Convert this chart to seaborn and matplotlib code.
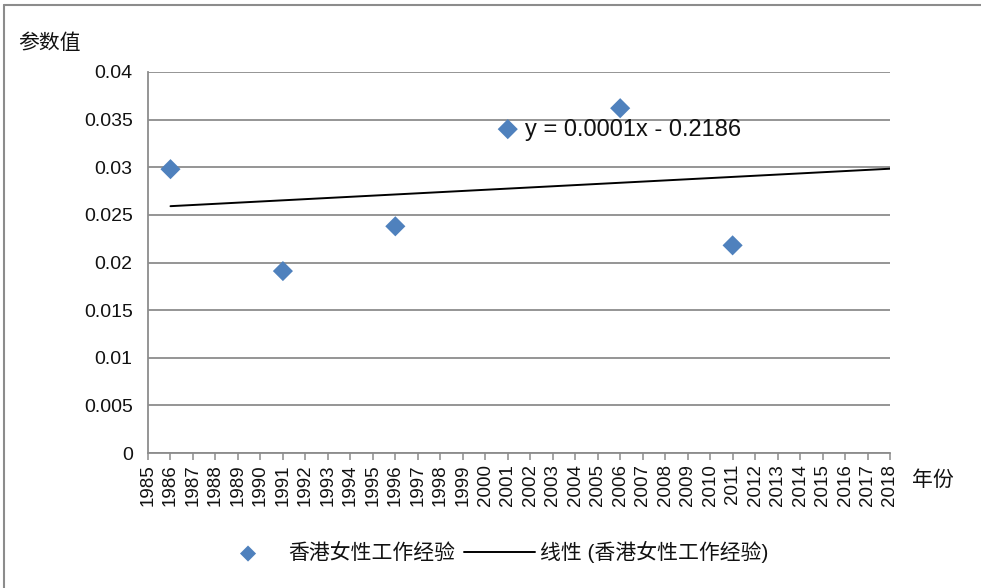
"""Hong Kong female work-experience coefficient by survey year, with linear trend."""

import matplotlib.pyplot as plt
import numpy as np
import pandas as pd
import seaborn as sns
from matplotlib.lines import Line2D
from matplotlib.ticker import FuncFormatter, MultipleLocator

# -------------------------------------------------------------------------- #
# Data
# -------------------------------------------------------------------------- #
YEARS = [1986, 1991, 1996, 2001, 2006, 2011]
COEFS = [0.0298, 0.0191, 0.0238, 0.0340, 0.0362, 0.0218]
AXIS_YEARS = (1985, 2018)
SERIES_NAME = "香港女性工作经验"
TREND_NAME = "线性 (香港女性工作经验)"
EQUATION = "y = 0.0001x - 0.2186"
Y_LABEL = "参数值"
X_LABEL = "年份"

BLUE = "#4F81BD"
GRID = "#8C8C8C"
INK = "#111111"

sns.set_theme(style="white")
plt.rcParams["font.family"] = ["Liberation Sans", "Noto Sans CJK SC", "DejaVu Sans"]

df = pd.DataFrame({"year": YEARS, "coef": COEFS})

# linear trend, fitted to the points and projected forward to the axis end
slope, intercept = np.polyfit(df.year, df.coef, 1)
trend = pd.DataFrame({"year": [YEARS[0], AXIS_YEARS[1]]})
trend["coef"] = slope * trend.year + intercept

fig = plt.figure(figsize=(9.81, 5.88), dpi=100)
ax = fig.add_axes([148 / 981, 1 - 453 / 588, 742 / 981, 381 / 588])

sns.lineplot(data=trend, x="year", y="coef", color="black", lw=1.4, ax=ax,
             label=TREND_NAME, legend=False)
sns.scatterplot(data=df, x="year", y="coef", marker="D", s=105, color=BLUE,
                edgecolor="none", ax=ax, label=SERIES_NAME, legend=False, zorder=3)

ax.set_xlim(*AXIS_YEARS)
ax.set_ylim(0, 0.04)
ax.xaxis.set_major_locator(MultipleLocator(1))
ax.yaxis.set_major_locator(MultipleLocator(0.005))
ax.yaxis.set_major_formatter(FuncFormatter(lambda v, _: f"{v:.3f}".rstrip("0").rstrip(".")))
ax.grid(axis="y", color=GRID, lw=1.3)
ax.set_axisbelow(True)
for side in ["top", "right"]:
    ax.spines[side].set_visible(False)
for side in ["left", "bottom"]:
    ax.spines[side].set_color(GRID)
    ax.spines[side].set_linewidth(1.3)
ax.tick_params(axis="x", direction="out", length=5, width=1.1, color=GRID,
               labelsize=13.5, labelrotation=90, pad=3, labelcolor=INK, bottom=True)
ax.tick_params(axis="y", length=0, labelsize=14, pad=11, labelcolor=INK)
ax.set_xlabel("")
ax.set_ylabel("")

ax.text((525 - 148) / 742, 1 - (130 - 72) / 381, EQUATION, transform=ax.transAxes,
        fontsize=17, va="center", ha="left", color=INK)

fig.text(18 / 981, 1 - 43 / 588, Y_LABEL, fontsize=15, ha="left", va="center", color=INK)
fig.text(912 / 981, 1 - 480 / 588, X_LABEL, fontsize=15, ha="left", va="center", color=INK)

handles, labels = ax.get_legend_handles_labels()
order = [labels.index(SERIES_NAME), labels.index(TREND_NAME)]
leg = fig.legend([handles[i] for i in order], [labels[i] for i in order],
                 loc="center", bbox_to_anchor=(0.50, 1 - 552 / 588), ncol=2,
                 frameon=False, fontsize=15, handlelength=3.4, handletextpad=0.25,
                 columnspacing=0.4, markerscale=0.8)
for t in leg.get_texts():
    t.set_color(INK)

# chart-area frame: only the top and left edges show in the reference
fig.add_artist(Line2D([0.004, 1.0], [1 - 5 / 588] * 2, transform=fig.transFigure,
                      color=GRID, lw=1.5))
fig.add_artist(Line2D([0.0045] * 2, [0.0, 1 - 5 / 588], transform=fig.transFigure,
                      color=GRID, lw=1.5))

fig.savefig("out.png", dpi=100)
